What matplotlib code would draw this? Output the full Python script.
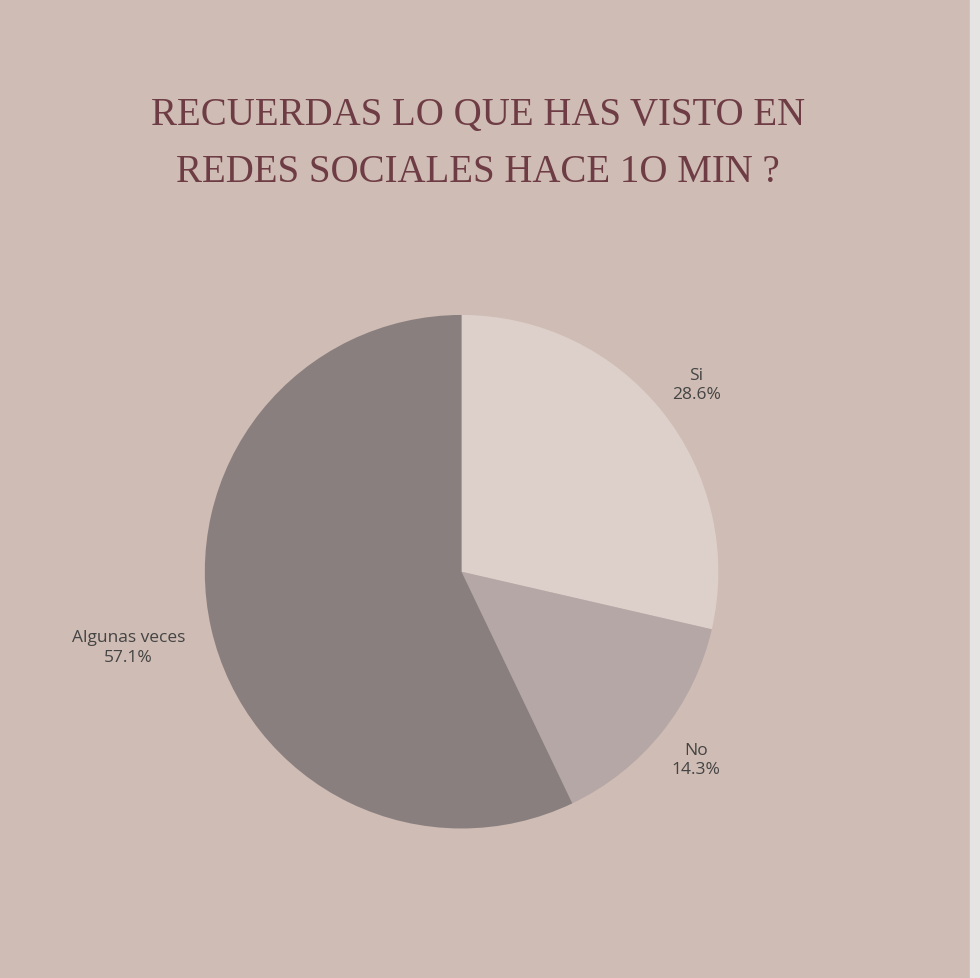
import numpy as np
import matplotlib.pyplot as plt

categorias = ["Si", "No", "Algunas veces"]
porcentajes = [28.6, 14.3, 57.1]
colores = ["#ddd0cb", "#b5a7a6", "#8a7f7f"]
dist_etiquetas = [1.17, 1.17, 1.33]

fondo = "#cfbcb4"
fig = plt.figure(figsize=(9.8, 9.79), dpi=100, facecolor=fondo)
fig.patches.append(plt.Rectangle((0.99, 0), 0.01, 1, transform=fig.transFigure,
                                 color="#e6e3e3", zorder=0))

fig.text(0.488, 0.853, "RECUERDAS LO QUE HAS VISTO EN\nREDES SOCIALES HACE 1O MIN ?",
         ha="center", va="center", fontsize=28, color="#6e3c44",
         family="Liberation Serif", linespacing=1.7)

ax = fig.add_axes([0.209, 0.1525, 0.524, 0.525])
ax.set_facecolor(fondo)
wedges, _ = ax.pie(porcentajes, colors=colores, startangle=90, counterclock=False,
                   wedgeprops=dict(linewidth=0))
for w, c, p, d in zip(wedges, categorias, porcentajes, dist_etiquetas):
    ang = np.deg2rad((w.theta1 + w.theta2) / 2)
    ax.text(d * np.cos(ang), d * np.sin(ang), f"{c}\n{p}%", ha="center", va="center",
            fontsize=12.5, color="#444444", family="Open Sans", linespacing=1.3)
ax.set_xlim(-1, 1)
ax.set_ylim(-1, 1)
ax.set_aspect("equal")

fig.savefig("out.png", facecolor=fondo)
